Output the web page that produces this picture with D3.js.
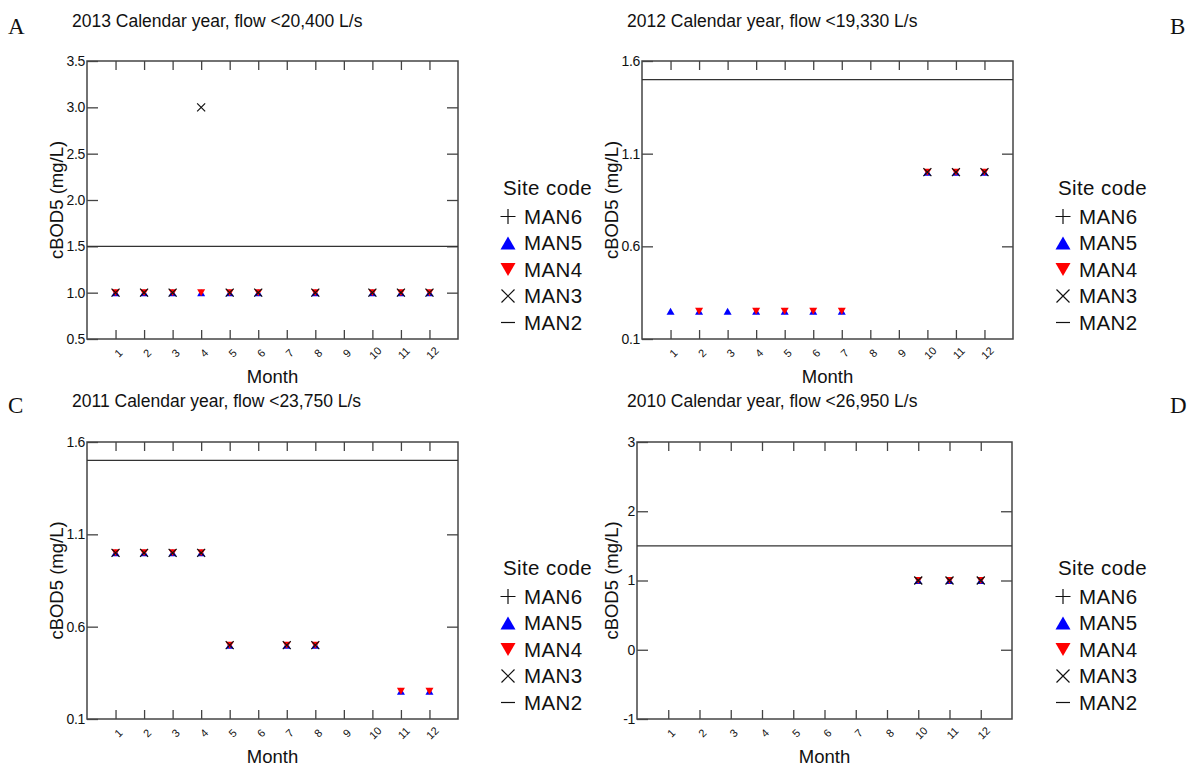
<!DOCTYPE html>
<html>
<head>
<meta charset="utf-8">
<script src="https://cdn.jsdelivr.net/npm/d3@7"></script>
<style>
  body { margin: 0; background: #fff; }
  text { font-family: Arial, "Liberation Sans", Helvetica, sans-serif; fill: #111; }
</style>
</head>
<body>
<svg id="chart" width="1195" height="767"></svg>
<script>
// Month categories (2010 has no September sample)
const months = ["1","2","3","4","5","6","7","8","9","10","11","12"];
const months2010 = ["1","2","3","4","5","6","7","8","10","11","12"];

// cBOD5 (mg/L) by site, one value per month category (null = no sample)
const man5_2013 = [1, 1, 1, 1, 1, 1, null, 1, null, 1, 1, 1];
const man4_2013 = [1, 1, 1, 1, 1, 1, null, 1, null, 1, 1, 1];
const man3_2013 = [1, 1, 1, 3, 1, 1, null, 1, null, 1, 1, 1];

const man5_2012 = [0.25, 0.25, 0.25, 0.25, 0.25, 0.25, 0.25, null, null, 1, 1, 1];
const man4_2012 = [null, 0.25, null, 0.25, 0.25, 0.25, 0.25, null, null, 1, 1, 1];
const man3_2012 = [null, null, null, null, null, null, null, null, null, 1, 1, 1];

const man5_2011 = [1, 1, 1, 1, 0.5, null, 0.5, 0.5, null, null, 0.25, 0.25];
const man4_2011 = [1, 1, 1, 1, 0.5, null, 0.5, 0.5, null, null, 0.25, 0.25];
const man3_2011 = [1, 1, 1, 1, 0.5, null, 0.5, 0.5, null, null, null, null];

const man5_2010 = [null, null, null, null, null, null, null, null, 1, 1, 1];
const man4_2010 = [null, null, null, null, null, null, null, null, 1, 1, 1];
const man3_2010 = [null, null, null, null, null, null, null, null, 1, 1, 1];

// Guideline level drawn as a horizontal rule
const limitValue = 1.5;

// Y axis ticks per panel
const yTicks2013 = [0.5, 1.0, 1.5, 2.0, 2.5, 3.0, 3.5];
const yTicks2012 = [0.1, 0.6, 1.1, 1.6];
const yTicks2011 = [0.1, 0.6, 1.1, 1.6];
const yTicks2010 = [-1, 0, 1, 2, 3];

const titles = [
  "2013 Calendar year, flow <20,400 L/s",
  "2012 Calendar year, flow <19,330 L/s",
  "2011 Calendar year, flow <23,750 L/s",
  "2010 Calendar year, flow <26,950 L/s"
];
const panelLetters = ["A", "B", "C", "D"];
const siteCodes = ["MAN6", "MAN5", "MAN4", "MAN3", "MAN2"];

const BLUE = "#0000ff", RED = "#ff0000", INK = "#111", FRAME = "#444";

const svg = d3.select("#chart");

const panels = [
  { letter: panelLetters[0], title: titles[0], cats: months, man5: man5_2013, man4: man4_2013, man3: man3_2013,
    ticks: yTicks2013, fmt: d => d.toFixed(1),
    box: { l: 87, r: 458, t: 61, b: 339 }, yLabX: 57, titleX: 72, titleY: 27, letterX: 8, letterY: 34,
    legX: 503, legY: 188 },
  { letter: panelLetters[1], title: titles[1], cats: months, man5: man5_2012, man4: man4_2012, man3: man3_2012,
    ticks: yTicks2012, fmt: d => d.toFixed(1),
    box: { l: 642, r: 1013, t: 61, b: 339 }, yLabX: 612, titleX: 627, titleY: 27, letterX: 1170, letterY: 34,
    legX: 1058, legY: 188 },
  { letter: panelLetters[2], title: titles[2], cats: months, man5: man5_2011, man4: man4_2011, man3: man3_2011,
    ticks: yTicks2011, fmt: d => d.toFixed(1),
    box: { l: 87, r: 458, t: 442, b: 719 }, yLabX: 57, titleX: 72, titleY: 407, letterX: 8, letterY: 413,
    legX: 503, legY: 568 },
  { letter: panelLetters[3], title: titles[3], cats: months2010, man5: man5_2010, man4: man4_2010, man3: man3_2010,
    ticks: yTicks2010, fmt: d => String(d),
    box: { l: 637, r: 1012, t: 442, b: 719 }, yLabX: 612, titleX: 627, titleY: 407, letterX: 1170, letterY: 413,
    legX: 1058, legY: 568 }
];

const triUp = (cx, cy, w, h) => `M${cx - w / 2},${cy + h / 2}L${cx + w / 2},${cy + h / 2}L${cx},${cy - h / 2}Z`;
const triDown = (cx, cy, w, h) => `M${cx - w / 2},${cy - h / 2}L${cx + w / 2},${cy - h / 2}L${cx},${cy + h / 2}Z`;
const cross = (cx, cy, s) => `M${cx - s},${cy - s}L${cx + s},${cy + s}M${cx - s},${cy + s}L${cx + s},${cy - s}`;
const plus = (cx, cy, s) => `M${cx - s},${cy}L${cx + s},${cy}M${cx},${cy - s}L${cx},${cy + s}`;

panels.forEach(p => {
  const g = svg.append("g");
  const { l, r, t, b } = p.box;

  const x = d3.scalePoint().domain(p.cats).range([l, r]).padding(1);
  const y = d3.scaleLinear().domain(d3.extent(p.ticks)).range([b, t]);

  // Panel letter and title
  g.append("text").attr("x", p.letterX).attr("y", p.letterY)
    .style("font-family", "'Liberation Serif', 'Times New Roman', serif")
    .style("font-size", "23px").text(p.letter);
  g.append("text").attr("x", p.titleX).attr("y", p.titleY)
    .style("font-size", "17.5px").text(p.title);

  // Axes with inward ticks on all four sides
  const styleAxis = sel => {
    sel.select(".domain").remove();
    sel.selectAll(".tick line").attr("stroke", FRAME).attr("stroke-width", 1.3);
  };
  g.append("g").attr("transform", `translate(${l},0)`)
    .call(d3.axisLeft(y).tickValues(p.ticks).tickSize(-11).tickPadding(2).tickFormat(p.fmt))
    .call(styleAxis)
    .call(s => s.selectAll(".tick text").style("font-size", "14px").attr("fill", INK)
      .style("font-family", "Arial, 'Liberation Sans', sans-serif").attr("letter-spacing", "-0.3px"));
  g.append("g").attr("transform", `translate(${r},0)`)
    .call(d3.axisRight(y).tickValues(p.ticks.slice(1, -1)).tickSize(-11).tickFormat(""))
    .call(styleAxis);
  g.append("g").attr("transform", `translate(0,${b})`)
    .call(d3.axisBottom(x).tickSize(-9).tickFormat(""))
    .call(styleAxis);
  g.append("g").attr("transform", `translate(0,${t})`)
    .call(d3.axisTop(x).tickSize(-9).tickFormat(""))
    .call(styleAxis);

  // Rotated month labels
  g.selectAll(".mlab").data(p.cats).join("text")
    .attr("class", "mlab")
    .attr("transform", d => `translate(${x(d) + 3},${b + 14}) rotate(-45)`)
    .attr("text-anchor", "middle").attr("dy", "0.35em")
    .style("font-size", "11px").text(d => d);

  // Frame
  g.append("rect").attr("x", l).attr("y", t).attr("width", r - l).attr("height", b - t)
    .attr("fill", "none").attr("stroke", FRAME).attr("stroke-width", 1.5);

  // Axis titles
  g.append("text").attr("transform", `translate(${p.yLabX},${(t + b) / 2}) rotate(-90)`)
    .attr("text-anchor", "middle").attr("dy", "0.35em")
    .style("font-size", "18.5px").text("cBOD5 (mg/L)");
  g.append("text").attr("x", (l + r) / 2).attr("y", b + 44)
    .attr("text-anchor", "middle").style("font-size", "18.5px").text("Month");

  // Guideline
  g.append("line").attr("x1", l).attr("x2", r).attr("y1", y(limitValue)).attr("y2", y(limitValue))
    .attr("stroke", "#333").attr("stroke-width", 1.3);

  // Site markers: MAN5 (blue up), MAN4 (red down), MAN3 (black cross)
  const pts = arr => p.cats.map((c, i) => ({ c, v: arr[i] })).filter(d => d.v != null);
  g.selectAll(".m5").data(pts(p.man5)).join("path").attr("class", "m5")
    .attr("d", d => triUp(x(d.c), y(d.v), 8, 7)).attr("fill", BLUE);
  g.selectAll(".m4").data(pts(p.man4)).join("path").attr("class", "m4")
    .attr("d", d => triDown(x(d.c), y(d.v), 8, 7)).attr("fill", RED);
  g.selectAll(".m3").data(pts(p.man3)).join("path").attr("class", "m3")
    .attr("d", d => cross(x(d.c), y(d.v), 4)).attr("stroke", INK).attr("stroke-width", 1.2).attr("fill", "none");

  // Legend
  const lg = g.append("g").attr("transform", `translate(${p.legX},${p.legY})`);
  lg.append("text").attr("x", 0).attr("y", 0).attr("dy", "0.35em").style("font-size", "20.5px")
    .attr("letter-spacing", "0.4px").text("Site code");
  const symX = 5, txtX = 21, gap = 26.5, first = 28.5;
  siteCodes.forEach((code, i) => {
    const cy = first + i * gap;
    if (code === "MAN6") lg.append("path").attr("d", plus(symX, cy, 7.5)).attr("stroke", INK).attr("stroke-width", 1.2);
    if (code === "MAN5") lg.append("path").attr("d", triUp(symX, cy, 15, 13)).attr("fill", BLUE);
    if (code === "MAN4") lg.append("path").attr("d", triDown(symX, cy, 15, 13)).attr("fill", RED);
    if (code === "MAN3") lg.append("path").attr("d", cross(symX, cy, 6.5)).attr("stroke", INK).attr("stroke-width", 1.2);
    if (code === "MAN2") lg.append("path").attr("d", `M${symX - 7},${cy}L${symX + 7},${cy}`).attr("stroke", INK).attr("stroke-width", 1.2);
    lg.append("text").attr("x", txtX).attr("y", cy).attr("dy", "0.35em").style("font-size", "20.5px")
      .attr("letter-spacing", "0.4px").text(code);
  });
});
</script>
</body>
</html>
